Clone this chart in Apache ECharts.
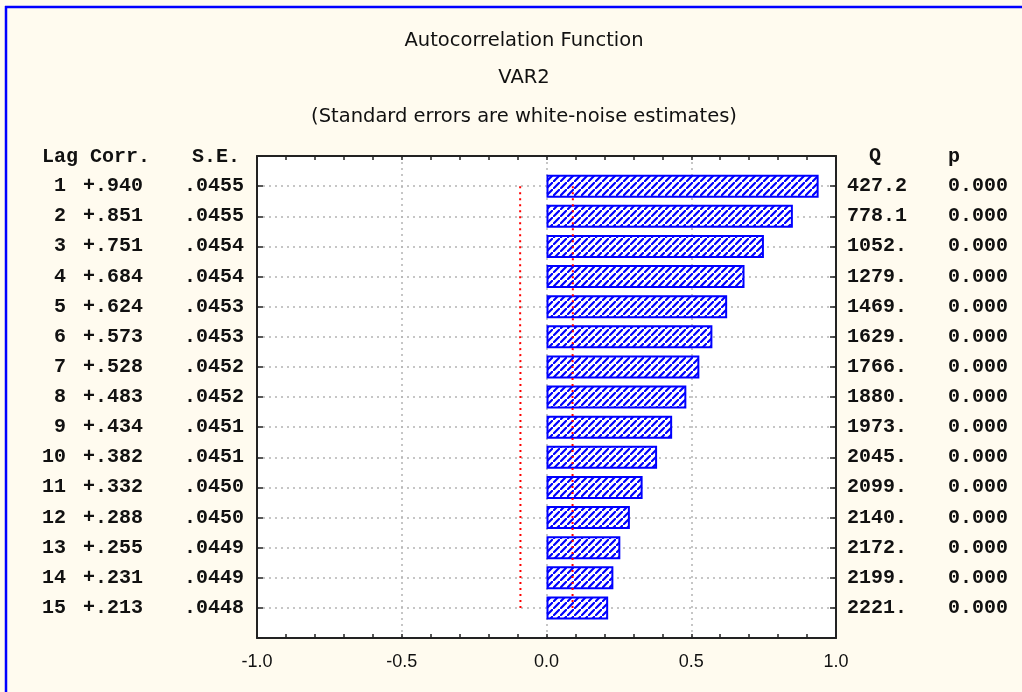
<!DOCTYPE html>
<html>
<head>
<meta charset="utf-8">
<script src="https://cdn.jsdelivr.net/npm/echarts@6/dist/echarts.min.js"></script>
<style>
html,body{margin:0;padding:0;background:#fffbef;}
#c{width:1022px;height:692px;}
</style>
</head>
<body>
<div id="c"></div>
<script>
// ---- data ----
var lags = [1,2,3,4,5,6,7,8,9,10,11,12,13,14,15];
var corr = [0.940,0.851,0.751,0.684,0.624,0.573,0.528,0.483,0.434,0.382,0.332,0.288,0.255,0.231,0.213];
var se = [0.0455,0.0455,0.0454,0.0454,0.0453,0.0453,0.0452,0.0452,0.0451,0.0451,0.0450,0.0450,0.0449,0.0449,0.0448];
var qStat = ['427.2','778.1','1052.','1279.','1469.','1629.','1766.','1880.','1973.','2045.','2099.','2140.','2172.','2199.','2221.'];
var pVal = ['0.000','0.000','0.000','0.000','0.000','0.000','0.000','0.000','0.000','0.000','0.000','0.000','0.000','0.000','0.000'];
var limitUpper = [0.091,0.091,0.091,0.091,0.091,0.091,0.090,0.090,0.090,0.090,0.090,0.090,0.090,0.090,0.090];
var limitLower = [-0.091,-0.091,-0.091,-0.091,-0.091,-0.091,-0.090,-0.090,-0.090,-0.090,-0.090,-0.090,-0.090,-0.090,-0.090];
var xTicks = ['-1.0','-0.5','0.0','0.5','1.0'];
var titles = ['Autocorrelation Function','VAR2','(Standard errors are white-noise estimates)'];

// categories padded so rows sit one band in from the frame
var yCats = [''].concat(lags.map(String)).concat(['']);

// hatch pattern
var P = 7;
var pc = document.createElement('canvas');
pc.width = P; pc.height = P;
var g = pc.getContext('2d');
g.fillStyle = '#ffffff'; g.fillRect(0,0,P,P);
g.strokeStyle = '#0000ff'; g.lineWidth = 2.2;
g.beginPath();
g.moveTo(-1,P+1); g.lineTo(P+1,-1);
g.moveTo(-P-1,1); g.lineTo(1,-P-1);
g.moveTo(P-1,2*P+1); g.lineTo(2*P+1,P-1);
g.stroke();

var mono = '"Liberation Mono", "DejaVu Sans Mono", monospace';
var sans = '"Liberation Sans", Arial, sans-serif';
var tsans = '"DejaVu Sans", "Liberation Sans", sans-serif';

function fmtCorr(v){ return (v>=0?'+':'-') + Math.abs(v).toFixed(3).slice(1); }
function fmtSe(v){ return v.toFixed(4).slice(1); }

var frameLine = {show:true, onZero:false, lineStyle:{color:'#222', width:2}};
var gridDot = {color:'#b4b4b4', type:[2,4], width:1.5};

var chart = echarts.init(document.getElementById('c'));
var option = {
  backgroundColor: '#fffbef',
  animation: false,
  title: titles.map(function(t,i){
    return {text:t, left:519, textAlign:'center', top:[26,63,102][i],
      textStyle:{fontFamily:tsans,fontSize:19.5,fontWeight:'normal',color:'#111'}};
  }),
  graphic: [
    {type:'line', shape:{x1:5,y1:7,x2:1022,y2:7}, style:{stroke:'#0000ff',lineWidth:2.5}},
    {type:'line', shape:{x1:6,y1:6,x2:6,y2:692}, style:{stroke:'#0000ff',lineWidth:2.5}},
    {type:'text', left:42, top:147, style:{text:'Lag Corr.', font:'bold 20px '+mono, fill:'#111'}},
    {type:'text', left:192, top:147, style:{text:'S.E.', font:'bold 20px '+mono, fill:'#111'}},
    {type:'text', left:869, top:146, style:{text:'Q', font:'bold 20px '+mono, fill:'#111'}},
    {type:'text', left:948, top:147, style:{text:'p', font:'bold 20px '+mono, fill:'#111'}}
  ],
  grid: {left:257, right:186, top:156, bottom:54, show:true, backgroundColor:'#ffffff', borderWidth:0, containLabel:false},
  xAxis: [
    {type:'value', position:'bottom', min:-1, max:1, interval:0.5,
     axisLine:frameLine,
     axisTick:{show:true, inside:true, length:4, lineStyle:{color:'#222',width:1.5}},
     minorTick:{show:true, splitNumber:5, length:4, lineStyle:{color:'#222',width:1.5}},
     splitLine:{show:true, lineStyle:gridDot},
     axisLabel:{margin:15, fontFamily:sans, fontSize:18, color:'#111',
       formatter:function(v){ var i=Math.round((v+1)/0.5); return xTicks[i]; }}},
    {type:'value', position:'top', min:-1, max:1, interval:0.5,
     axisLine:frameLine,
     axisTick:{show:true, inside:true, length:4, lineStyle:{color:'#222',width:1.5}},
     minorTick:{show:true, splitNumber:5, length:4, lineStyle:{color:'#222',width:1.5}},
     splitLine:{show:false}, axisLabel:{show:false}}
  ],
  yAxis: [
    {type:'category', data:yCats, inverse:true, boundaryGap:false, position:'left',
     axisLine:frameLine,
     axisTick:{show:true, inside:true, length:6, lineStyle:{color:'#222',width:1.5}},
     splitLine:{show:true, interval:function(idx){ return idx>0 && idx<yCats.length-1; }, lineStyle:gridDot},
     axisLabel:{margin:13, interval:0,
       formatter:function(v,idx){ if(idx<1||idx>lags.length) return ''; var i=idx-1;
         return '{l|'+lags[i]+'}{c|'+fmtCorr(corr[i])+'}{s|'+fmtSe(se[i])+'}'; },
       rich:{
         l:{width:36, align:'right', fontFamily:mono, fontWeight:'bold', fontSize:20, color:'#111'},
         c:{width:77, align:'right', fontFamily:mono, fontWeight:'bold', fontSize:20, color:'#111'},
         s:{width:101, align:'right', fontFamily:mono, fontWeight:'bold', fontSize:20, color:'#111'}
       }}},
    {type:'category', data:yCats, inverse:true, boundaryGap:false, position:'right',
     axisLine:frameLine,
     axisTick:{show:true, inside:true, length:6, lineStyle:{color:'#222',width:1.5}},
     splitLine:{show:false},
     axisLabel:{margin:11, interval:0,
       formatter:function(v,idx){ if(idx<1||idx>lags.length) return ''; var i=idx-1;
         return '{q|'+qStat[i]+'}{p|'+pVal[i]+'}'; },
       rich:{
         q:{width:101, align:'left', fontFamily:mono, fontWeight:'bold', fontSize:20, color:'#111'},
         p:{width:70, align:'left', fontFamily:mono, fontWeight:'bold', fontSize:20, color:'#111'}
       }}}
  ],
  series: [
    {type:'bar', xAxisIndex:0, yAxisIndex:0, barWidth:23, z:2,
     data: corr.map(function(c,i){ return [c, String(lags[i])]; }),
     itemStyle:{color:{image:pc, repeat:'repeat'}, borderColor:'#0000ff', borderWidth:2}},
    {type:'line', xAxisIndex:0, yAxisIndex:0, symbol:'none', z:5,
     data: limitLower.map(function(v,i){ return [v, String(lags[i])]; }),
     lineStyle:{color:'#ff0000', type:[2,4], width:2}},
    {type:'line', xAxisIndex:0, yAxisIndex:0, symbol:'none', z:5,
     data: limitUpper.map(function(v,i){ return [v, String(lags[i])]; }),
     lineStyle:{color:'#ff0000', type:[2,4], width:2}}
  ]
};
chart.setOption(option);
</script>
</body>
</html>
